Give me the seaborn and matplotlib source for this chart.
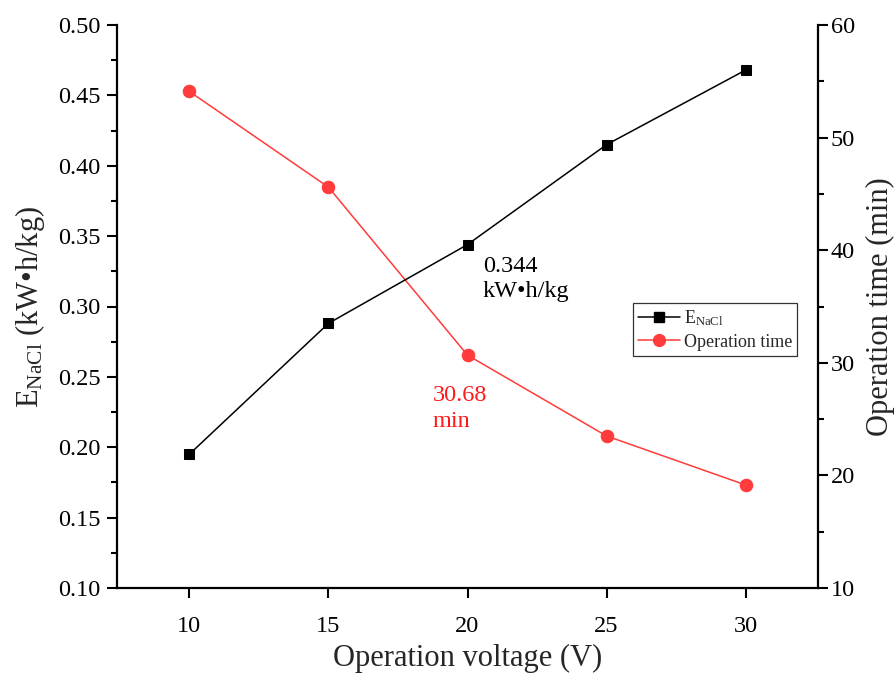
import matplotlib
matplotlib.use("Agg")
import matplotlib.pyplot as plt
from matplotlib.ticker import MultipleLocator
from matplotlib.lines import Line2D
import seaborn as sns
import pandas as pd

voltage = [10, 15, 20, 25, 30]
e_nacl = [0.195, 0.288, 0.344, 0.415, 0.468]
op_time = [54.1, 45.6, 30.68, 23.5, 19.15]

sns.set_theme(style="ticks")
plt.rcParams['font.family'] = ['Liberation Serif', 'DejaVu Serif']
plt.rcParams['mathtext.fontset'] = 'custom'
plt.rcParams['mathtext.rm'] = 'Liberation Serif'
plt.rcParams['mathtext.it'] = 'Liberation Serif:italic'

df = pd.DataFrame({"voltage": voltage, "e": e_nacl, "t": op_time})

fig = plt.figure(figsize=(8.96, 6.78), dpi=100)
ax = fig.add_axes([117/896, 1 - 588/678, (818-117)/896, (588-25)/678])
ax2 = ax.twinx()

red = '#ff3b3b'
sns.lineplot(data=df, x="voltage", y="e", ax=ax, color='black', marker='s',
             markersize=7.5, linewidth=1.1, markeredgecolor='black')
sns.lineplot(data=df, x="voltage", y="t", ax=ax2, color=red, marker='o',
             markersize=9, linewidth=1.1, markeredgecolor=red)

ax.set_xlim(7.4, 32.6)
ax.set_ylim(0.10, 0.50)
ax2.set_ylim(10, 60)
ax.set_xticks([10, 15, 20, 25, 30])
ax.yaxis.set_major_locator(MultipleLocator(0.05))
ax.yaxis.set_minor_locator(MultipleLocator(0.025))
ax2.yaxis.set_major_locator(MultipleLocator(10))
ax2.yaxis.set_minor_locator(MultipleLocator(5))
ax.yaxis.set_major_formatter(matplotlib.ticker.FormatStrFormatter('%.2f'))

for a in (ax, ax2):
    a.spines['top'].set_visible(False)
    for s in ('left', 'right', 'bottom'):
        a.spines[s].set_linewidth(1.6)
        a.spines[s].set_color('black')
    a.tick_params(which='major', direction='out', length=7, width=1.5,
                  labelsize=17.5, colors='black')
    a.tick_params(which='minor', direction='out', length=4, width=1.5, colors='black')
ax.tick_params(axis='x', which='major', pad=13)
ax.tick_params(axis='y', which='major', pad=5)
ax2.tick_params(axis='y', which='major', pad=2)
ax.spines['right'].set_visible(False)
ax2.spines['left'].set_visible(False)
ax2.spines['bottom'].set_visible(False)

ax.set_xlabel('Operation voltage (V)', fontsize=22, labelpad=5)
ax.set_ylabel(r'E$_{\mathrm{NaCl}}$ (kW•h/kg)', fontsize=22, labelpad=8)
ax2.set_ylabel('Operation time (min)', fontsize=22, labelpad=8)

ax.text(20.55, 0.3195, '0.344\nkW•h/kg', fontsize=17.5, color='black',
        ha='left', va='center', linespacing=1.3)
ax.text(18.75, 0.2275, '30.68\nmin', fontsize=17.5, color='#ff1a1a',
        ha='left', va='center', linespacing=1.35)

handles = [
    Line2D([], [], color='black', marker='s', markersize=7, linewidth=1.1),
    Line2D([], [], color=red, marker='o', markersize=8.5, linewidth=1.1),
]
leg = ax.legend(handles, [r'E$_{\mathrm{NaCl}}$', 'Operation time'],
                loc='upper left', bbox_to_anchor=((633-117)/701, 1 - (303-25)/563),
                fontsize=13, frameon=True, fancybox=False, handlelength=2.3,
                borderpad=0.3, labelspacing=0.3, handletextpad=0.2, borderaxespad=0)
leg.get_frame().set_edgecolor('black')
leg.get_frame().set_linewidth(0.9)
ax.set_zorder(ax2.get_zorder() + 1)
ax.patch.set_visible(False)

fig.savefig('out.png', dpi=100)
